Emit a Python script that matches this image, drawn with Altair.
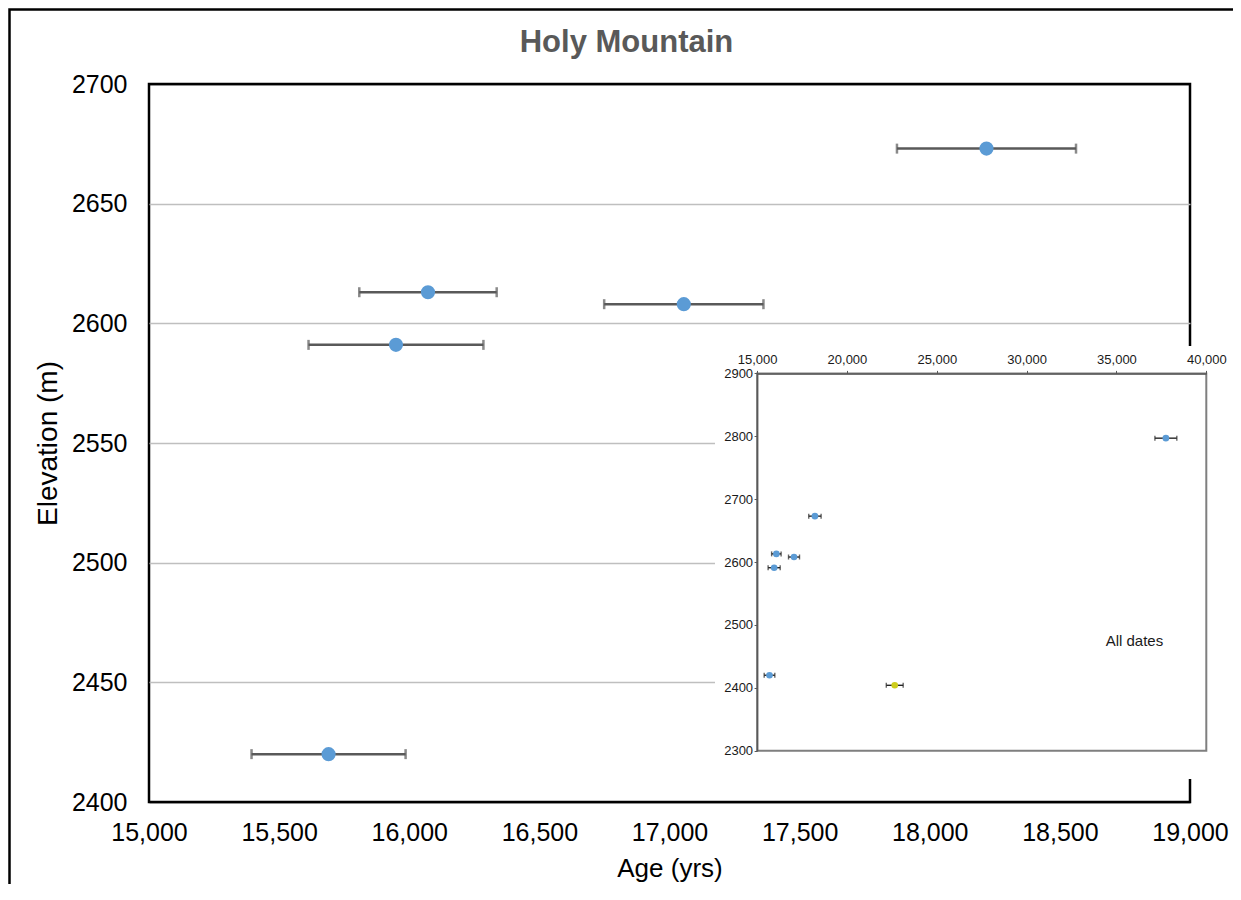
import altair as alt
import pandas as pd

# ---------------- data ----------------
# main panel: Holy Mountain dates
ages = [18218, 16072, 17055, 15949, 15690]
elevations = [2673, 2613, 2608, 2591, 2420]
age_errors = [344, 264, 306, 336, 296]

# inset ("All dates"): the same dates plus two more
extra_ages = [37750, 22660]
extra_elevations = [2797, 2404]
extra_errors = [610, 470]
extra_groups = ["blue", "yellow"]

title_text = "Holy Mountain"
x_title = "Age (yrs)"
y_title = "Elevation (m)"
inset_label = "All dates"
inset_label_pos = [36000, 2475]

main_x_domain = [15000, 19000]
main_y_domain = [2400, 2700]
main_x_ticks = [15000, 15500, 16000, 16500, 17000, 17500, 18000, 18500, 19000]
main_y_ticks = [2400, 2450, 2500, 2550, 2600, 2650, 2700]

inset_x_domain = [15000, 40000]
inset_y_domain = [2300, 2900]
inset_x_ticks = [15000, 20000, 25000, 30000, 35000, 40000]
inset_y_ticks = [2300, 2400, 2500, 2600, 2700, 2800, 2900]

# ---------------- tables ----------------
main_df = pd.DataFrame({"age": ages, "elev": elevations, "err": age_errors})
inset_df = pd.DataFrame({
    "age": ages + extra_ages,
    "elev": elevations + extra_elevations,
    "err": age_errors + extra_errors,
    "grp": ["blue"] * len(ages) + extra_groups,
})
box_df = pd.DataFrame({"x0": [inset_x_domain[0]], "x1": [inset_x_domain[1]],
                       "y0": [inset_y_domain[0]], "y1": [inset_y_domain[1]]})
label_df = pd.DataFrame({"x": [inset_label_pos[0]], "y": [inset_label_pos[1]], "t": [inset_label]})
one_row = pd.DataFrame({"k": [0]})

FONT = "Liberation Sans"
NARROW = "Liberation Sans Narrow, Arial Narrow, Liberation Sans"

W, H = 1041, 718

# ---------------- scales ----------------
mx = alt.Scale(domain=main_x_domain, nice=False, zero=False)
my = alt.Scale(domain=main_y_domain, nice=False, zero=False)
ix = alt.Scale(domain=inset_x_domain, range=[608.1, 1057.3], nice=False, zero=False)
iy = alt.Scale(domain=inset_y_domain, range=[666.7, 289.4], nice=False, zero=False)

# ---------------- axes ----------------
ax_mx = alt.Axis(values=main_x_ticks, format=",d", title=x_title, orient="bottom",
                 grid=False, domain=False, ticks=False, labelPadding=18,
                 labelFont=FONT, labelFontSize=25, labelColor="black",
                 titleFont=FONT, titleFontSize=26, titleFontWeight="normal",
                 titleColor="black", titlePadding=10,
                 labelFlush=False, labelOverlap=False)
ax_my = alt.Axis(values=main_y_ticks, format="d", title=y_title, orient="left",
                 grid=True,
                 gridColor={"condition": {"test": "datum.value == 2400 || datum.value == 2700",
                                          "value": "black"},
                            "value": "#BFBFBF"},
                 gridWidth=1.5, domain=False, ticks=False, labelPadding=22,
                 labelFont=FONT, labelFontSize=25, labelColor="black",
                 titleFont=FONT, titleFontSize=28, titleFontWeight="normal",
                 titleColor="black", titlePadding=9,
                 labelFlush=False, labelOverlap=False)
ax_ix = alt.Axis(values=inset_x_ticks, format=",d", title=None, orient="top", offset=-289.4,
                 grid=False, domain=True, domainColor="#595959", domainWidth=1.5,
                 ticks=True, tickSize=3, tickColor="#595959", labelPadding=4,
                 labelFont=NARROW, labelFontSize=13, labelColor="#1a1a1a",
                 labelFlush=False, labelOverlap=False, zindex=1)
ax_iy = alt.Axis(values=inset_y_ticks, format="d", title=None, orient="left", offset=-608.1,
                 grid=False, domain=True, domainColor="#595959", domainWidth=1.5,
                 ticks=True, tickSize=3, tickColor="#595959", labelPadding=1.5,
                 labelFont=NARROW, labelFontSize=13, labelColor="#1a1a1a",
                 labelFlush=False, labelOverlap=False, zindex=1)

# ---------------- outer chart-area frame ----------------
frame = alt.Chart(one_row).mark_rect(fillOpacity=0, stroke="black", strokeWidth=2.5).encode(
    x=alt.value(-139.5), x2=alt.value(1200), y=alt.value(-74.5), y2=alt.value(900)
)

# ---------------- main panel ----------------
main_base = alt.Chart(main_df).transform_calculate(
    lo="datum.age - datum.err", hi="datum.age + datum.err"
)
main_err = main_base.mark_errorbar(color="#595959", thickness=2.5, ticks={"size": 10}).encode(
    x=alt.X("lo:Q", scale=mx, axis=ax_mx),
    x2="hi:Q",
    y=alt.Y("elev:Q", scale=my, axis=ax_my),
)
main_pts = alt.Chart(main_df).mark_circle(size=200, color="#5B9BD5", opacity=1).encode(
    x=alt.X("age:Q", scale=mx, axis=ax_mx),
    y=alt.Y("elev:Q", scale=my, axis=ax_my),
)
main_layer = alt.layer(main_err, main_pts)

# ---------------- inset panel ----------------
inset_bg = alt.Chart(one_row).mark_rect(color="white").encode(
    x=alt.value(566), x2=alt.value(1076), y=alt.value(262), y2=alt.value(695)
)
inset_box = alt.Chart(box_df).mark_rect(fillOpacity=0, stroke="#7F7F7F", strokeWidth=2).encode(
    x=alt.X("x0:Q", scale=ix, axis=ax_ix),
    x2="x1:Q",
    y=alt.Y("y0:Q", scale=iy, axis=ax_iy),
    y2="y1:Q",
)
inset_base = alt.Chart(inset_df).transform_calculate(
    lo="datum.age - datum.err", hi="datum.age + datum.err"
)
inset_err = inset_base.mark_errorbar(color="#262626", thickness=1.4, ticks={"size": 5}).encode(
    x=alt.X("lo:Q", scale=ix, axis=ax_ix),
    x2="hi:Q",
    y=alt.Y("elev:Q", scale=iy, axis=ax_iy),
)
inset_pts = alt.Chart(inset_df).mark_circle(size=44, opacity=1).encode(
    x=alt.X("age:Q", scale=ix, axis=ax_ix),
    y=alt.Y("elev:Q", scale=iy, axis=ax_iy),
    color=alt.Color("grp:N", scale=alt.Scale(domain=["blue", "yellow"],
                                             range=["#5B9BD5", "#CDCD1C"]), legend=None),
)
inset_txt = alt.Chart(label_df).mark_text(font=NARROW, fontSize=15, color="#1a1a1a",
                                          baseline="middle", align="center").encode(
    x=alt.X("x:Q", scale=ix, axis=ax_ix),
    y=alt.Y("y:Q", scale=iy, axis=ax_iy),
    text="t:N",
)
inset_layer = alt.layer(inset_bg, inset_box, inset_err, inset_pts, inset_txt)

chart = alt.layer(frame, main_layer, inset_layer).resolve_scale(
    x="independent", y="independent"
).properties(
    width=W, height=H,
    autosize=alt.AutoSizeParams(type="none"),
    padding={"left": 141, "top": 76, "right": 43, "bottom": 82},
    title=alt.TitleParams(text=title_text, font=FONT, fontSize=31, fontWeight="bold",
                          color="#595959", anchor="middle", frame="group",
                          dx=-43, offset=-75, baseline="alphabetic"),
).configure(background="white").configure_view(stroke="black", strokeWidth=2.5)

chart.save("out.html", embed_options={"renderer": "svg", "actions": False})
